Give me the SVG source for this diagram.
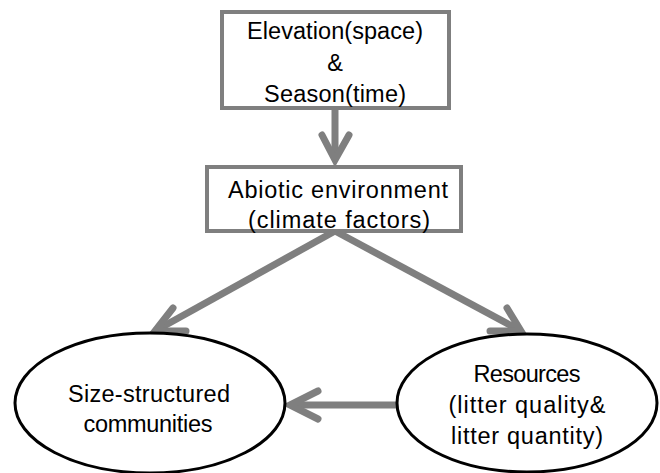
<svg xmlns="http://www.w3.org/2000/svg" width="660" height="473" viewBox="0 0 660 473">
<style>
.box{fill:#fff;stroke:#7f7f7f;stroke-width:4}
.ell{fill:#fff;stroke:#000;stroke-width:3}
.t{font-family:"Liberation Sans",Arial,sans-serif;font-size:23.5px;fill:#000;text-anchor:middle}
.c{stroke:#7f7f7f;stroke-width:7;fill:none;stroke-linecap:butt}
.h{stroke:#7f7f7f;stroke-width:7;fill:none;stroke-linecap:round;stroke-linejoin:miter}
</style>
<rect width="660" height="473" fill="#fff"/>
<g id="connectors">
<line class="c" x1="335" y1="110" x2="335" y2="160"/>
<polyline class="h" points="322,135 335,160 349,135"/>
<line class="c" x1="335" y1="231" x2="155" y2="331"/>
<polyline class="h" points="173,308 155,331 186,331"/>
<line class="c" x1="335" y1="231" x2="521" y2="331"/>
<polyline class="h" points="507,308 521,331 490,331"/>
<line class="c" x1="397" y1="405" x2="290" y2="405"/>
<polyline class="h" points="318,391 290,405 318,419"/>
</g>
<g id="n1">
<rect class="box" x="222" y="12" width="227" height="96"/>
<text class="t" x="335" y="39" textLength="176">Elevation(space)</text>
<text class="t" x="335" y="71">&amp;</text>
<text class="t" x="335" y="102" textLength="142">Season(time)</text>
</g>
<g id="n2">
<rect class="box" x="207" y="167" width="254" height="64"/>
<text class="t" x="338" y="198" textLength="220">Abiotic environment</text>
<text class="t" x="339" y="228" textLength="182">(climate factors)</text>
</g>
<g id="n3">
<ellipse class="ell" cx="150" cy="403" rx="135" ry="70"/>
<text class="t" x="149" y="402" textLength="162">Size-structured</text>
<text class="t" x="148" y="432" textLength="129">communities</text>
</g>
<g id="n4">
<ellipse class="ell" cx="527" cy="403" rx="130" ry="69"/>
<text class="t" x="527" y="382" textLength="107">Resources</text>
<text class="t" x="527" y="413" textLength="157">(litter quality&amp;</text>
<text class="t" x="527" y="444" textLength="152">litter quantity)</text>
</g>
</svg>
